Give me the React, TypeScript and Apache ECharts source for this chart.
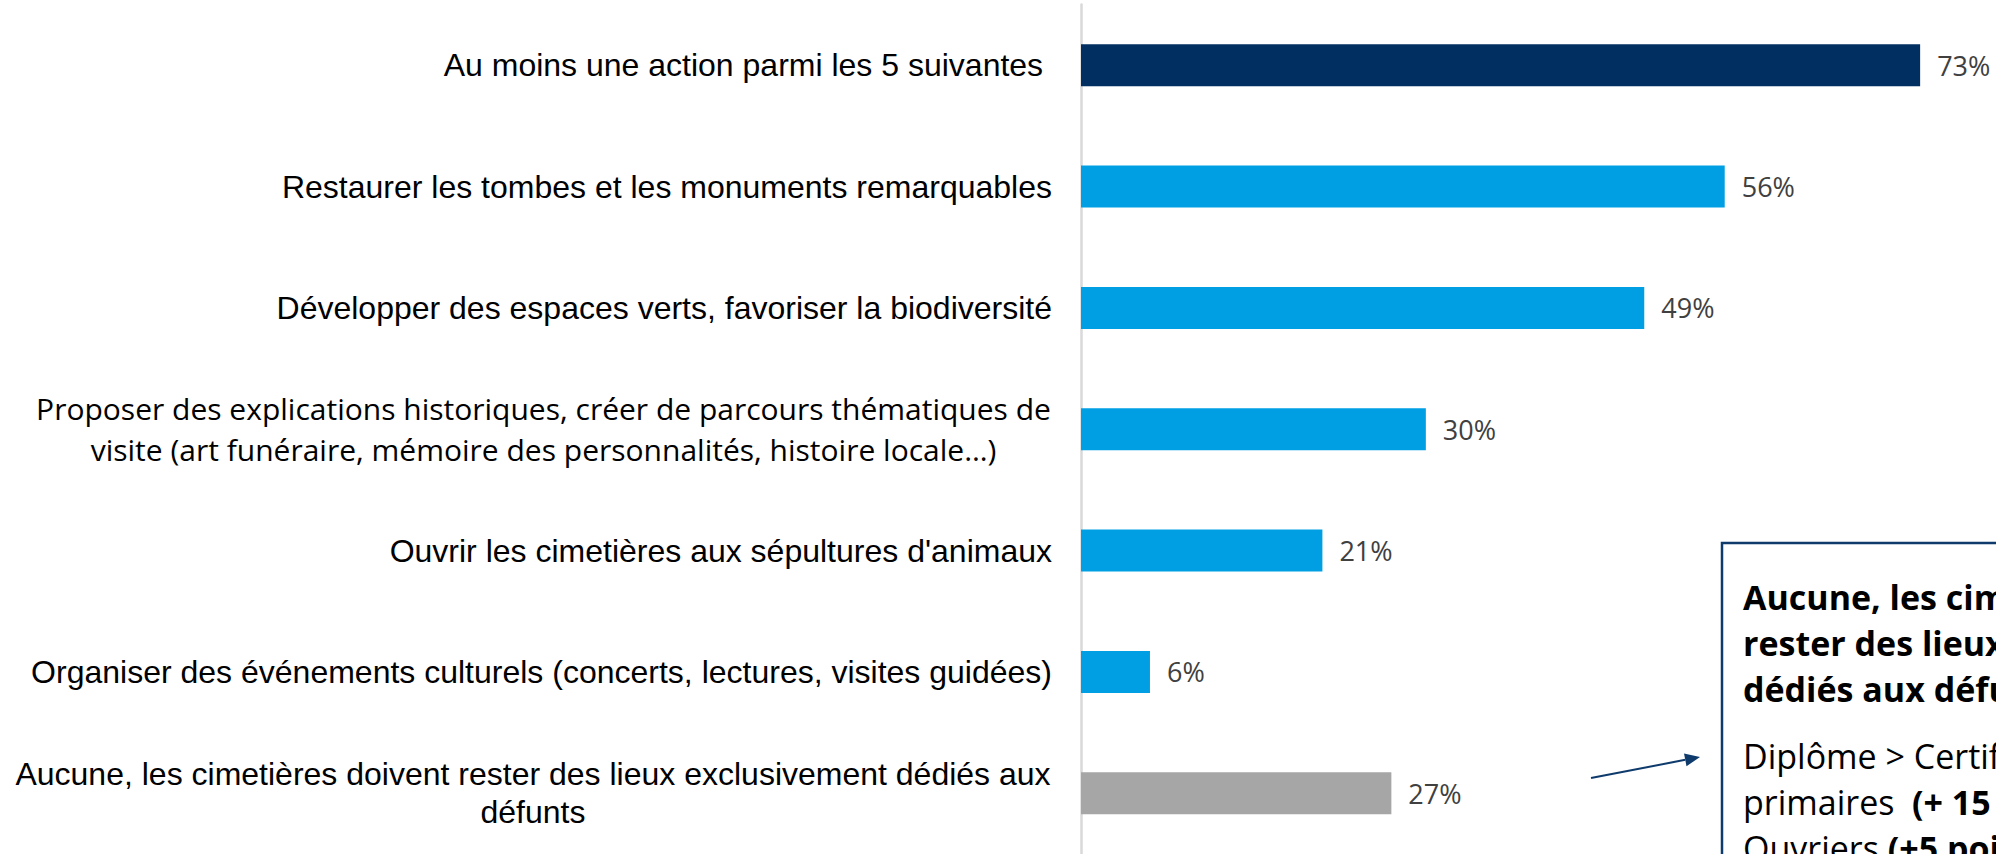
import React, { useEffect, useRef } from "react";
import * as echarts from "echarts";

const categories: string[] = [
  "Au moins une action parmi les 5 suivantes ",
  "Restaurer les tombes et les monuments remarquables",
  "Développer des espaces verts, favoriser la biodiversité",
  "Proposer des explications historiques, créer de parcours thématiques de\nvisite (art funéraire, mémoire des personnalités, histoire locale…)",
  "Ouvrir les cimetières aux sépultures d'animaux",
  "Organiser des événements culturels (concerts, lectures, visites guidées)",
  "Aucune, les cimetières doivent rester des lieux exclusivement dédiés aux\ndéfunts",
];
const values: number[] = [73, 56, 49, 30, 21, 6, 27];
const barColors: string[] = ["#022F62", "#009FE3", "#009FE3", "#009FE3", "#009FE3", "#009FE3", "#A6A6A6"];

const boxTitleLines: string[] = [
  "Aucune, les cimetières doivent",
  "rester des lieux exclusivement",
  "dédiés aux défunts",
];
const boxDetailLines: { normal: string; bold: string }[] = [
  { normal: "Diplôme > Certificat d'études", bold: "" },
  { normal: "primaires  ", bold: "(+ 15 points)" },
  { normal: "Ouvriers ", bold: "(+5 points)" },
];

const ARIAL = "'Liberation Sans', Arial, sans-serif";
const OPEN = "'Open Sans', 'Noto Sans', sans-serif";

function measure(text: string, font: string): number {
  const c = document.createElement("canvas");
  const ctx = c.getContext("2d")!;
  ctx.font = font;
  return ctx.measureText(text).width;
}

export default function App() {
  const ref = useRef<HTMLDivElement>(null);
  useEffect(() => {
    if (!ref.current) return;
    const chart = echarts.init(ref.current, undefined, { renderer: "svg" });

    const propLines = categories[3].split("\n");
    const aucLines = categories[6].split("\n");
    const wp = Math.ceil(measure(propLines[0], `30px 'Open Sans'`)) + 2;
    const wa = Math.ceil(measure(aucLines[0], `32px 'Liberation Sans'`)) + 2;

    const titleText = boxTitleLines.map((l) => `{b|${l}}`).join("\n");
    const detailText = boxDetailLines
      .map((d) => `{n|${d.normal}}` + (d.bold ? `{b|${d.bold}}` : ""))
      .join("\n");

    const boxRich = {
      b: { fontFamily: OPEN, fontSize: 34, fontWeight: "bold", lineHeight: 46, fill: "#000000" },
      n: { fontFamily: OPEN, fontSize: 34, fontWeight: "normal", lineHeight: 46, fill: "#000000" },
    };

    // arrow geometry
    const x1 = 1591, y1 = 778, x2 = 1700, y2 = 757;
    const dx = x2 - x1, dy = y2 - y1;
    const len = Math.sqrt(dx * dx + dy * dy);
    const ux = dx / len, uy = dy / len;
    const hl = 15, hw = 6.5;
    const bx = x2 - ux * hl, by = y2 - uy * hl;

    chart.setOption({
      animation: false,
      backgroundColor: "#ffffff",
      grid: { left: 1081, right: 0, top: 4.5, height: 854.7, containLabel: false },
      xAxis: {
        type: "value",
        min: 0,
        max: 79.6,
        show: false,
      },
      yAxis: {
        type: "category",
        data: categories,
        inverse: true,
        axisLine: { show: true, lineStyle: { color: "#D9D9D9", width: 2.5 } },
        axisTick: { show: false },
        splitLine: { show: false },
        axisLabel: {
          margin: 29,
          align: "right",
          color: "#000000",
          formatter: (val: string) => {
            const lines = val.split("\n");
            if (lines.length === 1) return `{s|${val}}`;
            const key = val.startsWith("Proposer") ? "p" : "a";
            return lines.map((l) => `{${key}|${l}}`).join("\n");
          },
          rich: {
            s: { fontFamily: ARIAL, fontSize: 32, color: "#000000" },
            p: { fontFamily: OPEN, fontSize: 30, lineHeight: 41, width: wp, align: "center", color: "#000000" },
            a: { fontFamily: ARIAL, fontSize: 32, lineHeight: 38, width: wa, align: "center", color: "#000000" },
          },
        },
      },
      series: [
        {
          type: "bar",
          barWidth: 42,
          data: values.map((v, i) => ({ value: v, itemStyle: { color: barColors[i] } })),
          label: {
            show: true,
            position: "right",
            distance: 17,
            formatter: "{c}%",
            fontFamily: OPEN,
            fontSize: 27,
            color: "#404040",
          },
        },
      ],
      graphic: [
        {
          type: "line",
          z: 100,
          shape: { x1, y1, x2: bx, y2: by },
          style: { stroke: "#0E3A6C", lineWidth: 2 },
        },
        {
          type: "polygon",
          z: 100,
          shape: {
            points: [
              [x2, y2],
              [bx - uy * hw, by + ux * hw],
              [bx + uy * hw, by - ux * hw],
            ],
          },
          style: { fill: "#0E3A6C" },
        },
        {
          type: "rect",
          z: 100,
          shape: { x: 1722, y: 543, width: 400, height: 400 },
          style: { fill: "#ffffff", stroke: "#0E3A6C", lineWidth: 2.5 },
        },
        {
          type: "text",
          z: 101,
          x: 1743,
          y: 574,
          style: { text: titleText, fill: "#000000", fontFamily: OPEN, fontSize: 34, lineHeight: 46, rich: boxRich },
        },
        {
          type: "text",
          z: 101,
          x: 1743,
          y: 733,
          style: { text: detailText, fill: "#000000", fontFamily: OPEN, fontSize: 34, lineHeight: 46, rich: boxRich },
        },
      ],
    });
    return () => chart.dispose();
  }, []);
  return (
    <div
      ref={ref}
      style={{ position: "fixed", left: 0, top: 0, width: 1996, height: 854, background: "#fff" }}
    />
  );
}
